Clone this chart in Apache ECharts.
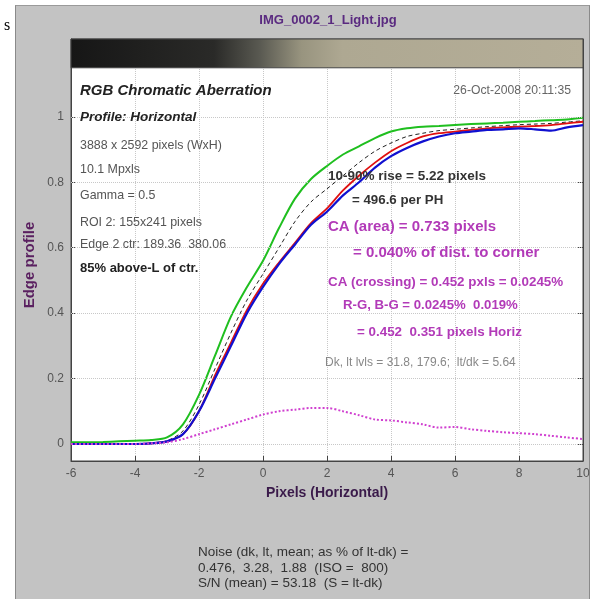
<!DOCTYPE html>
<html>
<head>
<meta charset="utf-8">
<script src="https://cdn.jsdelivr.net/npm/echarts@6/dist/echarts.min.js"></script>
<style>
html,body{margin:0;padding:0;background:#fff;}
#panel{position:absolute;left:15px;top:5px;width:573px;height:594px;background:#c3c3c3;border-left:1px solid #8a8a8a;border-top:1px solid #9a9a9a;border-right:1px solid #8a8a8a;}
#chart{position:absolute;left:0;top:0;width:597px;height:599px;}
</style>
</head>
<body>
<div id="panel"></div>
<div id="chart"></div>
<script>
// ---- data ----
const pixels = [-6,-5.5,-5,-4.5,-4,-3.5,-3,-2.5,-2,-1.5,-1,-0.5,0,0.5,1,1.5,2,2.5,3,3.5,4,4.5,5,5.5,6,6.5,7,7.5,8,8.5,9,9.5,10];
const greenEdge = [0.005,0.005,0.006,0.008,0.01,0.012,0.02,0.06,0.15,0.27,0.39,0.48,0.56,0.66,0.75,0.81,0.85,0.885,0.91,0.935,0.955,0.965,0.97,0.972,0.975,0.978,0.98,0.982,0.985,0.987,0.99,0.992,0.997];
const redEdge   = [0.0,0.0,0.0,0.0,0.0,0.002,0.008,0.03,0.10,0.21,0.31,0.41,0.49,0.555,0.615,0.675,0.72,0.775,0.82,0.86,0.895,0.92,0.94,0.95,0.955,0.96,0.965,0.968,0.97,0.972,0.975,0.98,0.985];
const blueEdge  = [0.0,0.0,0.0,0.0,0.0,0.002,0.008,0.03,0.10,0.20,0.30,0.40,0.48,0.55,0.61,0.67,0.71,0.76,0.80,0.845,0.88,0.905,0.925,0.94,0.95,0.955,0.96,0.962,0.965,0.962,0.958,0.968,0.975];
const meanEdge  = [0.0,0.0,0.0,0.0,0.0,0.003,0.01,0.04,0.12,0.23,0.34,0.44,0.52,0.60,0.68,0.74,0.78,0.82,0.86,0.895,0.92,0.94,0.95,0.958,0.962,0.966,0.97,0.973,0.976,0.978,0.98,0.984,0.988];
const caDiff    = [0.0,0.0,0.0,0.0,0.0,0.002,0.005,0.015,0.03,0.045,0.06,0.075,0.09,0.10,0.105,0.11,0.11,0.10,0.088,0.075,0.072,0.066,0.06,0.05,0.052,0.045,0.04,0.036,0.033,0.03,0.025,0.02,0.015];
const yTicks = [0,0.2,0.4,0.6,0.8,1];

const FONT = '"Liberation Sans", Arial, Helvetica, sans-serif';
const yMin = -0.052, yMax = 1.238, barBottom = 1.15;

function pairs(ys){ return pixels.map((x,i)=>[x, ys[i]]); }

const chart = echarts.init(document.getElementById('chart'), null, {renderer:'canvas'});

const leftNotes = [
  {t:'3888 x 2592 pixels (WxH)', y:146},
  {t:'10.1 Mpxls', y:170},
  {t:'Gamma = 0.5', y:196},
  {t:'ROI 2: 155x241 pixels', y:223},
  {t:'Edge 2 ctr: 189.36  380.06', y:245}
];

function txt(x, y, text, font, fill, extra){
  return Object.assign({type:'text', x:x, y:y, z:10, style:Object.assign({text:text, font:font, fill:fill, textVerticalAlign:'middle'}, extra||{})});
}

const graphics = [
  txt(7, 26, 's', '16px "Liberation Serif", "Times New Roman", serif', '#000', {textAlign:'center'}),
  txt(328, 20, 'IMG_0002_1_Light.jpg', 'bold 13px '+FONT, '#5a2a80', {textAlign:'center'}),
  Object.assign(txt(30, 265, 'Edge profile', 'bold 15px '+FONT, '#5a2060', {textAlign:'center'}), {rotation:Math.PI/2}),
  txt(80, 91, 'RGB Chromatic Aberration', 'italic bold 15px '+FONT, '#222'),
  txt(571, 91, '26-Oct-2008 20:11:35', '12.2px '+FONT, '#666', {textAlign:'right'}),
  txt(80, 117, 'Profile: Horizontal', 'italic bold 13.5px '+FONT, '#222'),
  txt(80, 268, '85% above-L of ctr.', 'bold 13px '+FONT, '#222'),
  txt(328, 176, '10-90% rise = 5.22 pixels', 'bold 13.5px '+FONT, '#333'),
  txt(352, 200, '= 496.6 per PH', 'bold 13.3px '+FONT, '#333'),
  txt(328, 227, 'CA (area) = 0.733 pixels', 'bold 15px '+FONT, '#b23ab8'),
  txt(353, 253, '= 0.040% of dist. to corner', 'bold 15px '+FONT, '#b23ab8'),
  txt(328, 282, 'CA (crossing) = 0.452 pxls = 0.0245%', 'bold 13.4px '+FONT, '#b23ab8'),
  txt(343, 305, 'R-G, B-G = 0.0245%  0.019%', 'bold 13.2px '+FONT, '#b23ab8'),
  txt(357, 332, '= 0.452  0.351 pixels Horiz', 'bold 13.4px '+FONT, '#b23ab8'),
  txt(325, 363, 'Dk, lt lvls = 31.8, 179.6;  lt/dk = 5.64', '12px '+FONT, '#888'),
  txt(198, 552, 'Noise (dk, lt, mean; as % of lt-dk) =', '13.5px '+FONT, '#333'),
  txt(198, 568, '0.476,  3.28,  1.88  (ISO =  800)', '13.5px '+FONT, '#333'),
  txt(198, 583, 'S/N (mean) = 53.18  (S = lt-dk)', '13.5px '+FONT, '#333')
];
leftNotes.forEach(n => graphics.push(txt(80, n.y, n.t, '12.4px '+FONT, '#555')));

const option = {
  animation:false,
  backgroundColor:'transparent',
  grid:{left:71, top:39, width:512, height:422, show:true, backgroundColor:'#fff', borderColor:'#444', borderWidth:1},
  xAxis:{
    type:'value', min:-6, max:10, interval:2,
    name:'Pixels (Horizontal)', nameLocation:'middle', nameGap:25,
    nameTextStyle:{fontFamily:FONT, fontWeight:'bold', fontSize:14, color:'#3a1a4a'},
    axisLine:{onZero:false, lineStyle:{color:'#444'}},
    axisTick:{inside:true, length:5, lineStyle:{color:'#444'}},
    axisLabel:{color:'#555', fontFamily:FONT, fontSize:12, margin:7},
    splitLine:{show:true, lineStyle:{color:'#c8c8c8', type:'dotted'}}
  },
  yAxis:[{
    type:'value', min:yMin, max:yMax,
    axisLine:{onZero:false, lineStyle:{color:'#444'}},
    axisTick:{inside:true, length:5, customValues:yTicks, lineStyle:{color:'#444'}},
    axisLabel:{color:'#555', fontFamily:FONT, fontSize:12, margin:7, customValues:yTicks, formatter:v=>String(+v.toFixed(1))},
    splitLine:{show:false}
  },{
    type:'value', min:yMin, max:yMax, position:'right',
    axisLine:{show:true, onZero:false, lineStyle:{color:'#444'}},
    axisTick:{inside:true, length:5, customValues:yTicks, lineStyle:{color:'#444'}},
    axisLabel:{show:false},
    splitLine:{show:false}
  }],
  graphic:{elements:graphics},
  series:[
    {type:'line', data:[], silent:true,
     markArea:{silent:true, itemStyle:{borderColor:'#444', borderWidth:1, color:new echarts.graphic.LinearGradient(0,0,1,0,[
       {offset:0,color:'#161616'},{offset:0.28,color:'#2a2a28'},{offset:0.37,color:'#5a5a52'},
       {offset:0.45,color:'#98947f'},{offset:0.53,color:'#aea892'},{offset:1,color:'#b5ae98'}])},
       data:[[{coord:[-6,barBottom]},{coord:[10,yMax]}]]},
     markLine:{silent:true, symbol:'none', label:{show:false}, lineStyle:{color:'#c8c8c8', type:'dotted', width:1},
       data:yTicks.map(v=>({yAxis:v}))}
    },
    {name:'Mean', type:'line', data:pairs(meanEdge), showSymbol:false, smooth:0.3, lineStyle:{color:'#222', width:1, type:[4,3]}, z:3},
    {name:'Green', type:'line', data:pairs(greenEdge), showSymbol:false, smooth:0.3, lineStyle:{color:'#1fbf1f', width:2}, z:4},
    {name:'Red', type:'line', data:pairs(redEdge), showSymbol:false, smooth:0.3, lineStyle:{color:'#e01010', width:1.8}, z:5},
    {name:'Blue', type:'line', data:pairs(blueEdge), showSymbol:false, smooth:0.3, lineStyle:{color:'#1010d0', width:2.2}, z:6},
    {name:'CA', type:'line', data:pairs(caDiff), showSymbol:false, smooth:0.3, lineStyle:{color:'#d040d0', width:2, type:'dotted'}, z:7}
  ]
};
chart.setOption(option);
</script>
</body>
</html>
